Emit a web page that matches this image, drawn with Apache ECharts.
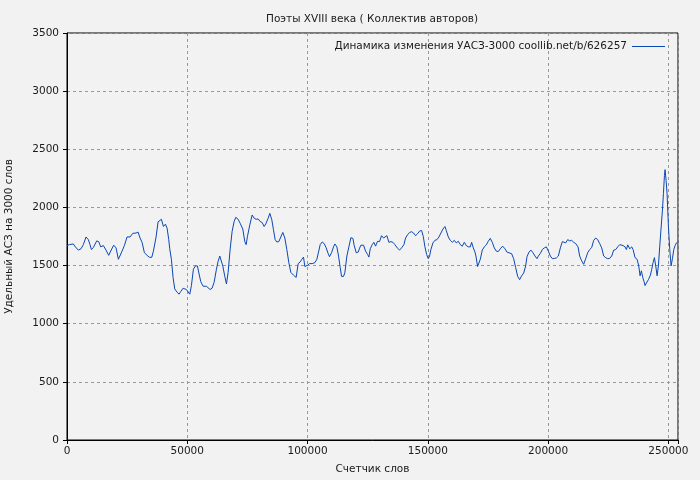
<!DOCTYPE html>
<html><head><meta charset="utf-8">
<script src="https://cdn.jsdelivr.net/npm/echarts@6/dist/echarts.min.js"></script>
<style>html,body{margin:0;padding:0;background:#f2f2f2;}#c{width:700px;height:480px;}</style>
</head><body><div id="c"></div>
<script>
const titleText = "Поэты XVIII века ( Коллектив авторов)";
const seriesName = "Динамика изменения УАСЗ-3000 coollib.net/b/626257";
const xName = "Счетчик слов";
const yName = "Удельный АСЗ на 3000 слов";
const xTicks = [0, 50000, 100000, 150000, 200000, 250000];
const yTicks = [0, 500, 1000, 1500, 2000, 2500, 3000, 3500];

const words = [
0,971,2635,3468,4716,5826,6796,7906,8877,9570,10125,10957,12344,13177,14009,15118,16228,17338,18170,19418,20389,21360,22053,22886,23857,24966,26214,27324,28711,29543,30375,31208,32179,33288,34259,35230,35923,37033,37865,39252,40084,40916,41610,42304,
42708,43401,44095,44788,45759,46591,47285,48256,48949,49643,50336,51030,51723,52555,53387,54220,54913,55607,56578,57965,58658,59490,60322,61155,62126,62819,63513,64206,64761,65593,66287,66980,67812,68644,69477,70170,71141,71973,73083,73915,74470,75025,75996,76966,77799,78631,79463,80295,81127,81960,82653,83624,84318,
85144,85837,86531,87224,88056,88888,89721,90553,91385,92217,93049,94159,95269,96101,96933,97627,98320,98875,99430,99984,100817,101926,103036,103868,104562,105255,106087,106919,107752,108584,109139,109971,110803,111358,112190,112884,113577,114132,114964,115519,116351,117183,118015,118848,119402,120235,121067,121622,122176,123286,124118,124950,125505,126060,126892,
127574,128267,129099,129931,130764,131596,132151,132983,133815,134647,135479,136312,137283,138253,139086,140057,140750,141582,142414,143247,144079,144911,145743,146575,147408,148101,148795,149488,150182,150736,151291,152123,152956,153788,154620,155452,156284,157117,157671,158504,159336,160168,161000,161832,162665,163497,164329,165161,165993,166826,167658,168213,168906,169600,
170004,170697,171252,171807,172639,173471,174303,175135,175968,176800,177632,178464,179296,180128,181100,182070,182903,183735,184844,185677,186509,187341,188173,189005,189838,190670,191225,192057,192889,193721,194553,195386,195940,196773,197605,198437,199269,200101,200934,201766,202598,203430,204262,205095,205927,206482,207314,208146,208978,209810,210643,211475,
212434,213127,213959,214791,215624,216456,217288,218120,218952,219785,220617,221449,222281,223113,223946,224778,225610,226442,227274,228107,228939,229771,230326,231158,231990,232545,233100,233932,234764,235319,236151,236983,237677,238232,238787,239341,239896,240312,240867,241699,242531,243086,243641,244196,244751,245305,245860,246415,246970,247525,247941,248357,248634,249050,249466,250021,250576,251130,251685,252240,252795,253350,253900
];
const values = [
1672,1680,1686,1661,1633,1644,1680,1746,1723,1680,1638,1655,1712,1706,1661,1672,1633,1588,1625,1675,1652,1554,1565,1624,1672,1746,1746,1777,1780,1788,1737,1700,1610,1588,1571,1571,1624,1746,1876,1898,1836,1856,1822,1723,
1644,1554,1398,1299,1271,1254,1277,1305,1311,1294,1277,1254,1328,1469,1497,1497,1427,1362,1322,1322,1322,1294,1305,1356,1469,1537,1582,1582,1497,1407,1342,1441,1638,1794,1879,1915,1898,1864,1814,1706,1680,1751,1850,1935,1907,1898,1901,1879,1870,1836,1859,1907,1949,
1893,1808,1723,1703,1706,1746,1785,1737,1638,1525,1441,1418,1398,1517,1531,1554,1573,1492,1497,1503,1517,1517,1525,1554,1616,1680,1703,1689,1652,1602,1576,1610,1661,1686,1661,1582,1483,1407,1407,1441,1582,1661,1740,1734,1672,1610,1616,1650,1675,1675,1624,1596,1573,1644,1680,
1700,1667,1709,1706,1757,1737,1723,1757,1700,1706,1700,1680,1652,1633,1652,1680,1737,1765,1785,1791,1780,1757,1774,1797,1802,1751,1661,1596,1559,1582,1638,1695,1717,1723,1746,1780,1814,1836,1802,1746,1717,1700,1717,1695,1709,1680,1667,1700,1672,1661,1661,1700,1652,1616,
1582,1492,1503,1554,1633,1661,1678,1709,1734,1700,1652,1624,1621,1644,1667,1644,1616,1610,1602,1559,1483,1407,1379,1412,1435,1497,1576,1616,1633,1610,1582,1559,1582,1604,1638,1652,1661,1624,1582,1559,1562,1565,1582,1652,1706,1723,1695,1723,1712,1717,1700,1689,
1661,1582,1540,1511,1559,1610,1638,1655,1717,1737,1723,1689,1652,1582,1568,1559,1562,1582,1633,1638,1661,1680,1695,1672,1661,1638,1678,1644,1661,1638,1568,1554,1497,1412,1455,1398,1362,1328,1350,1379,1418,1469,1525,1568,1497,1412,1497,1667,1822,1977,2119,2274,2325,2232,2119,1836,1638,1497,1559,1638,1672,1695,1706
];

const font = "DejaVu Sans";
const fs = 10.5;
const txt = "#1a1a1a";
const chart = echarts.init(document.getElementById('c'), null, {renderer: 'canvas'});
chart.setOption({
  backgroundColor: '#f2f2f2',
  animation: false,
  title: {
    text: titleText, left: 261, top: 9,
    textStyle: {fontFamily: font, fontSize: fs, fontWeight: 'normal', color: txt}
  },
  legend: {
    data: [seriesName], right: 30, top: 36, align: 'right',
    icon: 'rect', itemWidth: 33, itemHeight: 1, itemGap: 5,
    textStyle: {fontFamily: font, fontSize: fs, color: txt}
  },
  grid: {left: 67, right: 22, top: 33, bottom: 40, show: true, borderColor: '#000', borderWidth: 1,
         backgroundColor: 'transparent', containLabel: false, outerBoundsMode: 'none'},
  xAxis: {
    type: 'value', min: xTicks[0], max: 254000, interval: xTicks[1] - xTicks[0],
    name: xName, nameLocation: 'middle', nameGap: 24,
    nameTextStyle: {fontFamily: font, fontSize: fs, color: txt},
    axisLine: {lineStyle: {color: '#000', width: 1}},
    axisTick: {show: true, length: 4, lineStyle: {color: '#000'}},
    axisLabel: {fontFamily: font, fontSize: fs, color: txt, margin: 6,
      formatter: v => (xTicks.indexOf(v) >= 0 ? String(v) : '')},
    splitLine: {show: true, lineStyle: {color: '#999', type: [3, 3], width: 1}}
  },
  yAxis: {
    type: 'value', min: yTicks[0], max: yTicks[yTicks.length - 1], interval: yTicks[1] - yTicks[0],
    name: yName, nameLocation: 'middle', nameGap: 52, nameRotate: 90,
    nameTextStyle: {fontFamily: font, fontSize: fs, color: txt},
    axisLine: {lineStyle: {color: '#000', width: 1}},
    axisTick: {show: true, length: 4, lineStyle: {color: '#000'}},
    axisLabel: {fontFamily: font, fontSize: fs, color: txt, margin: 8, formatter: v => String(v)},
    splitLine: {show: true, lineStyle: {color: '#999', type: [3, 3], width: 1}}
  },
  series: [{
    name: seriesName, type: 'line', showSymbol: false, symbol: 'none',
    data: words.map((w, i) => [w, values[i]]),
    lineStyle: {color: '#0a47b5', width: 1}, itemStyle: {color: '#0a47b5'}
  }]
});
</script></body></html>
